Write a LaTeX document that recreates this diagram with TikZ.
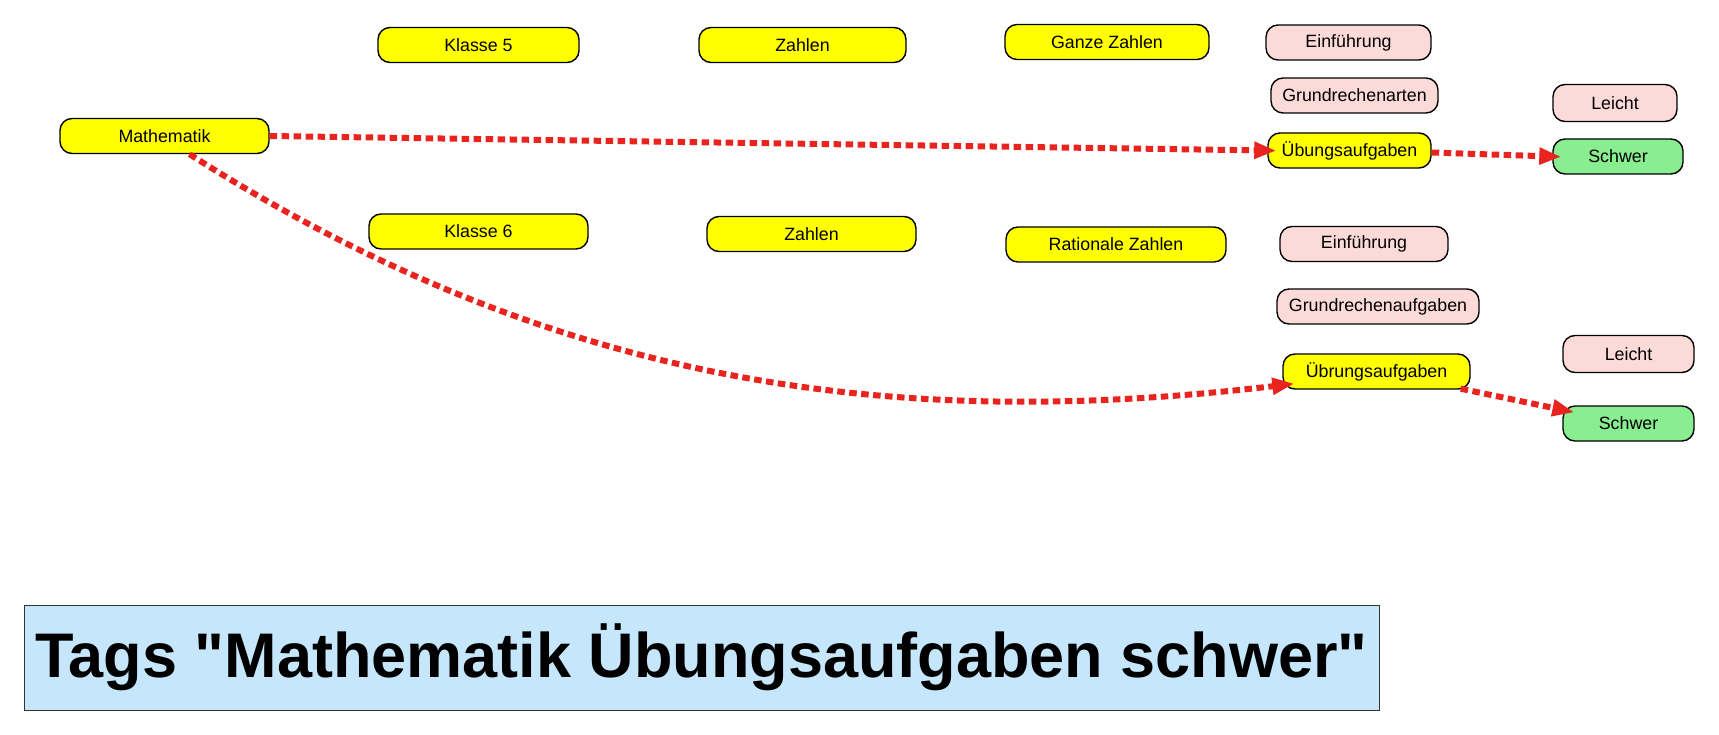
\documentclass[tikz,border=0pt]{standalone}
\usepackage{fontspec}
\setmainfont{Liberation Sans}[Ligatures=TeXOff]
\usetikzlibrary{arrows.meta}
\definecolor{tagyellow}{RGB}{255,255,0}
\definecolor{tagpink}{RGB}{252,218,216}
\definecolor{taggreen}{RGB}{136,238,144}
\definecolor{tagblue}{RGB}{198,230,252}
\definecolor{linkred}{RGB}{233,36,31}
\tikzset{
  tagbox/.style={draw=black, line width=1.4pt, rounded corners=12pt, minimum height=35pt,
    inner sep=0pt, font=\fontsize{17.8}{21}\selectfont, text=black},
  ybox/.style={tagbox, fill=tagyellow},
  pbox/.style={tagbox, fill=tagpink},
  gbox/.style={tagbox, fill=taggreen},
  link/.style={draw=linkred, line width=6pt, dash pattern=on 7.5pt off 4.5pt,
    -{Triangle[length=22pt,width=16pt]}},
}
\begin{document}
\begin{tikzpicture}[x=1pt,y=-1pt]
\useasboundingbox (0,0) rectangle (1719,735);
% column 1
\node[ybox, minimum width=209pt] (math) at (164.5,136) {Mathematik};
% Klasse 5 branch
\node[ybox, minimum width=201pt] (k5) at (478.5,45) {Klasse 5};
\node[ybox, minimum width=207pt] (z1) at (802.5,45) {Zahlen};
\node[ybox, minimum width=204pt] (gz) at (1107,42) {Ganze Zahlen};
\node[pbox, minimum width=165pt] (e1) at (1348.5,42.5) {Einführung};
\node[pbox, minimum width=167pt] (gr1) at (1354.5,95.5) {Grundrechenarten};
\node[ybox, minimum width=163pt] (u1) at (1349.5,150.5) {Übungsaufgaben};
\node[pbox, minimum width=124pt, minimum height=37pt] (l1) at (1615,103) {Leicht};
\node[gbox, minimum width=130pt] (s1) at (1618,156.5) {Schwer};
% Klasse 6 branch
\node[ybox, minimum width=219pt] (k6) at (478.5,231.5) {Klasse 6};
\node[ybox, minimum width=209pt] (z2) at (811.5,234) {Zahlen};
\node[ybox, minimum width=220pt] (rz) at (1116,244.5) {Rationale Zahlen};
\node[pbox, minimum width=168pt] (e2) at (1364,244) {Einführung};
\node[pbox, minimum width=202pt] (gr2) at (1378,306.5) {Grundrechenaufgaben};
\node[ybox, minimum width=187pt] (u2) at (1376.5,371.5) {Übrungsaufgaben};
\node[pbox, minimum width=131pt, minimum height=37pt] (l2) at (1628.5,354) {Leicht};
\node[gbox, minimum width=131pt] (s2) at (1628.5,423.5) {Schwer};
% title
\node[draw=black!80, line width=1pt, fill=tagblue, minimum width=1355pt, minimum height=105pt,
  inner sep=0pt, font=\fontsize{63}{70}\selectfont\bfseries] (title) at (701.5,657.5)
  {Tags "Mathematik Übungsaufgaben schwer"};
% connectors
\draw[link, shorten >=-9pt] (math.east) -- (u1.west);
\draw[link, shorten >=-9pt] ([yshift=-2pt]u1.east) -- (s1.west);
\draw[link] ([xshift=25pt]math.south) .. controls (560,390) and (900,430) .. ([xshift=12pt,yshift=6pt]u2.south west);
\draw[link] ([xshift=-10pt,yshift=1pt]u2.south east) -- ([xshift=12pt,yshift=-7pt]s2.north west);
\end{tikzpicture}
\end{document}
